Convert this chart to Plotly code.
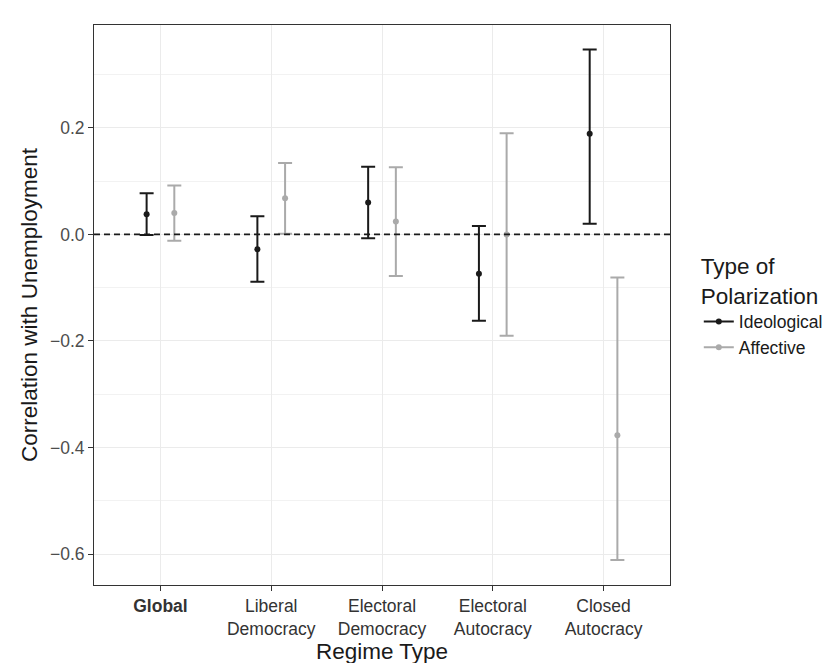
import plotly.graph_objects as go

regimes = ["Global", "Liberal Democracy", "Electoral Democracy", "Electoral Autocracy", "Closed Autocracy"]
tick_labels = ["<b>Global</b>", "Liberal<br>Democracy", "Electoral<br>Democracy", "Electoral<br>Autocracy", "Closed<br>Autocracy"]

ideo_est = [0.038, -0.028, 0.060, -0.074, 0.189]
ideo_lo = [-0.001, -0.089, -0.007, -0.162, 0.020]
ideo_hi = [0.077, 0.034, 0.127, 0.016, 0.347]

aff_est = [0.040, 0.068, 0.024, 0.000, -0.377]
aff_lo = [-0.012, 0.001, -0.078, -0.190, -0.611]
aff_hi = [0.092, 0.134, 0.126, 0.190, -0.081]

series = [
    ("Ideological", ideo_est, ideo_lo, ideo_hi, "#1a1a1a", -0.125),
    ("Affective", aff_est, aff_lo, aff_hi, "#aaaaaa", 0.125),
]

FONT = "Liberation Sans, Arial, Helvetica, sans-serif"
TICK = 17.5
TITLE = 22.5
fig = go.Figure()
idx = list(range(1, len(regimes) + 1))

for name, est, lo, hi, col, dodge in series:
    xs = [i + dodge for i in idx]
    fig.add_trace(go.Scatter(
        x=xs, y=est, mode="markers", name=name, showlegend=False,
        marker=dict(color=col, size=6),
        error_y=dict(type="data", symmetric=False,
                     array=[h - e for h, e in zip(hi, est)],
                     arrayminus=[e - l for e, l in zip(est, lo)],
                     color=col, thickness=2, width=7),
        hovertext=regimes,
    ))
    # legend key (line + dot, like ggplot pointrange)
    fig.add_trace(go.Scatter(
        x=[None], y=[None], mode="lines+markers", name=name,
        line=dict(color=col, width=2), marker=dict(color=col, size=6),
    ))

fig.add_hline(y=0, line=dict(color="#1a1a1a", width=1.8, dash="6px,4px"))

fig.update_layout(
    width=832, height=663,
    paper_bgcolor="white", plot_bgcolor="white",
    margin=dict(l=86, r=160, t=17, b=84),
    font=dict(family=FONT, color="#1a1a1a"),
    legend=dict(
        title=dict(text="Type of<br>Polarization", font=dict(size=TITLE, color="#1a1a1a")),
        font=dict(size=TICK, color="#1a1a1a"),
        x=1.05, xanchor="left", y=0.5, yanchor="middle",
        tracegroupgap=0, itemwidth=30,
    ),
    xaxis=dict(
        range=[0.4, 5.6], tickvals=idx, ticktext=tick_labels,
        showgrid=True, gridcolor="#ebebeb", gridwidth=1,
        ticks="outside", ticklen=5, tickcolor="#333333",
        tickfont=dict(size=TICK, color="#333333"),
        title=dict(text="Regime Type", font=dict(size=TITLE, color="#1a1a1a"), standoff=4),
        showline=True, linecolor="#333333", linewidth=1, mirror=True, zeroline=False,
    ),
    yaxis=dict(
        range=[-0.658, 0.393], tickvals=[-0.6, -0.4, -0.2, 0.0, 0.2], tickformat=".1f",
        showgrid=True, gridcolor="#ebebeb", gridwidth=1,
        minor=dict(tickvals=[-0.5, -0.3, -0.1, 0.1, 0.3], showgrid=True, gridcolor="#f2f2f2", gridwidth=1),
        ticks="outside", ticklen=5, tickcolor="#333333",
        tickfont=dict(size=TICK, color="#4d4d4d"),
        title=dict(text="Correlation with Unemployment", font=dict(size=TITLE, color="#1a1a1a"), standoff=6),
        showline=True, linecolor="#333333", linewidth=1, mirror=True, zeroline=False,
    ),
)

fig.write_html("out.html")
